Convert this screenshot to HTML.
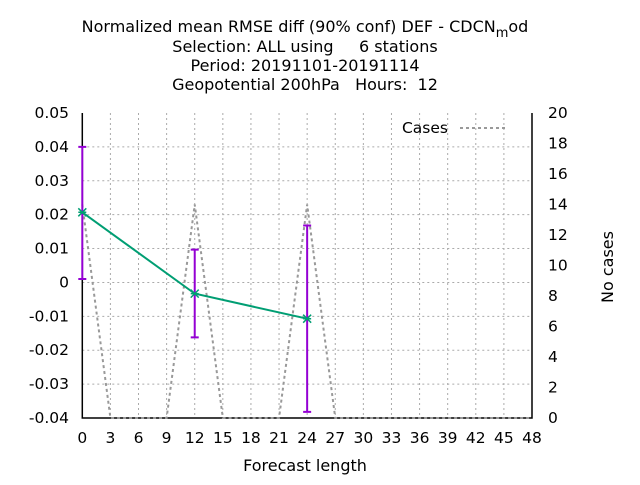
<!DOCTYPE html>
<html><head><meta charset="utf-8"><style>
body{margin:0;background:#fff}
svg{font-family:"DejaVu Sans","Liberation Sans",sans-serif}
text{white-space:pre}
</style></head><body>
<svg id="chart" width="640" height="480" xmlns="http://www.w3.org/2000/svg">
<g font-size="16" text-anchor="middle" fill="#000">
<text x="305" y="32">Normalized mean RMSE diff (90% conf) DEF - CDCN<tspan font-size="13" dy="5">m</tspan><tspan dy="-5">od</tspan></text>
<text x="305" y="52">Selection: ALL using     6 stations</text>
<text x="305" y="71">Period: 20191101-20191114</text>
<text x="305" y="90">Geopotential 200hPa   Hours:  12</text>
</g>
<g id="grid"></g>
<g id="axes"></g>
<g id="series"></g>
<text x="305" y="471" font-size="16" text-anchor="middle">Forecast length</text>
<text transform="translate(613,267) rotate(-90)" font-size="16" text-anchor="middle">No cases</text>
<g>
<text x="448" y="133" font-size="15.5" text-anchor="end">Cases</text>
<line x1="460" y1="128" x2="506" y2="128" stroke="#999" stroke-width="2" stroke-dasharray="3,3"/>
</g>
</svg>
<script>
const xTicks=[0,3,6,9,12,15,18,21,24,27,30,33,36,39,42,45,48];
const yTicks=[0.05,0.04,0.03,0.02,0.01,0,-0.01,-0.02,-0.03,-0.04];
const yTickLabels=["0.05","0.04","0.03","0.02","0.01","0","-0.01","-0.02","-0.03","-0.04"];
const y2Ticks=[0,2,4,6,8,10,12,14,16,18,20];
const leads=[0,12,24];
const rmseDiff=[0.0207,-0.0033,-0.0107];
const errLow=[0.001,-0.0162,-0.0382];
const errHigh=[0.040,0.0097,0.0168];
const caseLeads=[0,3,6,9,12,15,18,21,24,27,30,33,36,39,42,45,48];
const cases=[14,0,0,0,14,0,0,0,14,0,0,0,0,0,0,0,0];
const X0=82.3,X1=532,YT=113,YB=418;
const sx=v=>X0+(v-0)/(48-0)*(X1-X0);
const sy=v=>YB-(v+0.04)/(0.09)*(YB-YT);
const sy2=v=>YB-v/20*(YB-YT);
const NS="http://www.w3.org/2000/svg";
function mk(parent,tag,attrs){const e=document.createElementNS(NS,tag);for(const k in attrs)e.setAttribute(k,attrs[k]);parent.appendChild(e);return e;}
const grid=document.getElementById('grid'),axes=document.getElementById('axes'),ser=document.getElementById('series');
xTicks.forEach(t=>{
 if(t>0&&t<48){const l=mk(grid,'line',{x1:sx(t),x2:sx(t),y1:YT,y2:YB,stroke:'#aaa','stroke-width':1,'stroke-dasharray':'2,3'});
 
 }
 const tl=mk(axes,'text',{x:sx(t),y:443,'font-size':15.5,'text-anchor':'middle'});tl.textContent=t;
 
 
});
yTicks.forEach((t,i)=>{
 if(i>0&&i<yTicks.length-1){const l=mk(grid,'line',{x1:X0,x2:X1,y1:sy(t),y2:sy(t),stroke:'#aaa','stroke-width':1,'stroke-dasharray':'2,3'});
 
 }
 const tl=mk(axes,'text',{x:69,y:sy(t)+5,'font-size':15.5,'text-anchor':'end'});tl.textContent=yTickLabels[i];
 
 
});
y2Ticks.forEach(t=>{
 const tl=mk(axes,'text',{x:548,y:sy2(t)+5,'font-size':15.5,'text-anchor':'start'});tl.textContent=t;
 
 
});
const fr=mk(axes,'path',{d:`M${X0},${YT}V${YB}H${X1}V${YT}`,fill:'none',stroke:'#000','stroke-width':1.5});


const cp=mk(ser,'polyline',{points:caseLeads.map((l,i)=>sx(l)+','+sy2(cases[i])).join(' '),fill:'none',stroke:'#999','stroke-width':2,'stroke-dasharray':'3,3'});


leads.forEach((l,i)=>{
 const x=sx(l),a=sy(errHigh[i]),b=sy(errLow[i]);
 const e=mk(ser,'path',{d:`M${x},${a}V${b}M${x-4},${a}H${x+4}M${x-4},${b}H${x+4}`,stroke:'#9400d3','stroke-width':2,fill:'none'});
 
 
});
const ml=mk(ser,'polyline',{points:leads.map((l,i)=>sx(l)+','+sy(rmseDiff[i])).join(' '),fill:'none',stroke:'#009e73','stroke-width':2});


leads.forEach((l,i)=>{
 const x=sx(l),y=sy(rmseDiff[i]);
 const p=mk(ser,'path',{d:`M${x-4},${y-4}L${x+4},${y+4}M${x-4},${y+4}L${x+4},${y-4}M${x-4},${y}H${x+4}`,stroke:'#009e73','stroke-width':1.5});
 
 
});
</script>
</body></html>
